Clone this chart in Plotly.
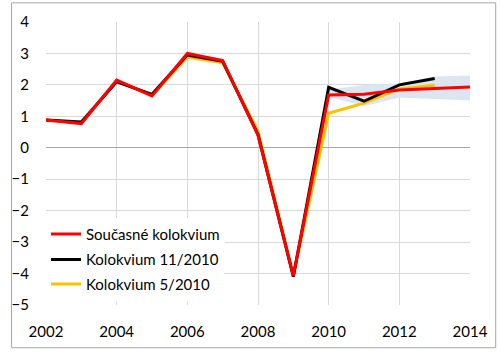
import plotly.graph_objects as go

years = list(range(2002, 2015))
current = [0.88, 0.77, 2.15, 1.65, 3.0, 2.77, 0.4, -4.07, 1.68, 1.70, 1.84, 1.88, 1.93]
years_nov = list(range(2002, 2014))
nov2010 = [0.88, 0.82, 2.1, 1.7, 2.95, 2.75, 0.42, -4.1, 1.92, 1.48, 2.0, 2.2]
years_may = list(range(2002, 2014))
may2010 = [0.88, 0.78, 2.12, 1.66, 2.88, 2.7, 0.53, -4.05, 1.1, 1.42, 1.87, 1.99]
band_years = [2010, 2011, 2012, 2013, 2014]
band_low = [1.62, 1.32, 1.6, 1.54, 1.5]
band_high = [1.85, 2.0, 2.05, 2.27, 2.3]

font = "Lato"
fig = go.Figure()
fig.add_trace(go.Scatter(x=band_years, y=band_low, mode="lines", line=dict(width=0),
                         showlegend=False, hoverinfo="skip"))
fig.add_trace(go.Scatter(x=band_years, y=band_high, mode="lines", line=dict(width=0),
                         fill="tonexty", fillcolor="#dce6f1", showlegend=False, hoverinfo="skip"))
fig.add_trace(go.Scatter(x=years_may, y=may2010, mode="lines", name="Kolokvium 5/2010",
                         line=dict(color="#ffc000", width=3), legend="legend3"))
fig.add_trace(go.Scatter(x=years_nov, y=nov2010, mode="lines", name="Kolokvium 11/2010",
                         line=dict(color="#000000", width=3), legend="legend2"))
fig.add_trace(go.Scatter(x=years, y=current, mode="lines", name="Současné kolokvium",
                         line=dict(color="#ff0000", width=3), legend="legend"))

leg = dict(x=0.0, xanchor="left", yanchor="middle", bgcolor="white",
           font=dict(size=15), itemwidth=30)
fig.update_layout(
    width=500, height=352,
    margin=dict(l=36, r=27, t=20, b=44),
    paper_bgcolor="white", plot_bgcolor="white",
    font=dict(family=font, size=15, color="#000000"),
    showlegend=True,
    legend=dict(leg, y=0.25),
    legend2=dict(leg, y=0.16),
    legend3=dict(leg, y=0.073),
    xaxis=dict(range=[2002, 2014], tickvals=list(range(2002, 2015, 2)),
               showgrid=True, gridcolor="#d9d9d9", gridwidth=1, zeroline=False,
               showline=False, ticks="", ticklabelstandoff=16),
    yaxis=dict(range=[-5, 4], tickvals=list(range(-5, 5)),
               showgrid=True, gridcolor="#d9d9d9", gridwidth=1,
               zeroline=True, zerolinecolor="#a6a6a6", zerolinewidth=1,
               showline=False, ticks="", ticklabelstandoff=16),
    shapes=[dict(type="rect", xref="paper", yref="paper",
                 x0=-35.5/437, x1=1 + 26.5/437, y0=-43.5/288, y1=1 + 19.5/288,
                 line=dict(color="#a6a6a6", width=1), fillcolor="rgba(0,0,0,0)")],
)
fig.write_html("out.html")
